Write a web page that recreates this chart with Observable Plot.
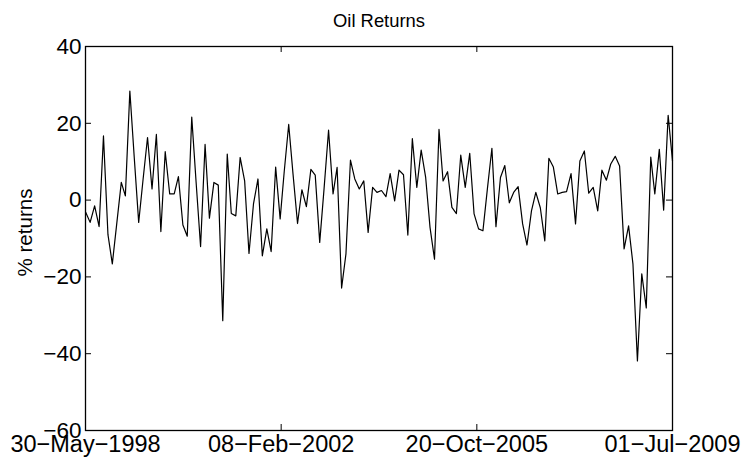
<!DOCTYPE html>
<html>
<head>
<meta charset="utf-8">
<script src="https://cdn.jsdelivr.net/npm/d3@7"></script>
<script src="https://cdn.jsdelivr.net/npm/@observablehq/plot@0.6"></script>
<style>
  html, body { margin: 0; padding: 0; background: #fff; }
</style>
</head>
<body>
<div id="chart"></div>
<script>
// Monthly oil returns (%)
const returns = [
  -3.2, -5.8, -1.5, -6.9, 16.7, -9.0, -16.6, -6.0, 4.6, 1.1,
  28.4, 11.3, -5.8, 5.3, 16.3, 2.9, 17.1, -8.2, 12.6, 1.6,
  1.6, 6.1, -6.5, -9.4, 21.6, 4.7, -12.1, 14.5, -4.7, 4.6,
  3.9, -31.4, 12.0, -3.5, -4.1, 11.1, 5.0, -13.9, -1.0, 5.5,
  -14.5, -7.5, -13.4, 8.6, -4.9, 7.4, 19.7, 6.7, -6.1, 2.7,
  -1.7, 8.0, 6.5, -11.0, 3.0, 18.2, 1.6, 8.5, -22.9, -14.0,
  10.4, 5.5, 2.9, 5.0, -8.4, 3.3, 2.0, 2.5, 0.9, 6.9,
  -0.2, 7.8, 6.6, -9.1, 16.0, 3.3, 13.0, 5.9, -7.1, -15.4,
  18.4, 5.0, 7.4, -1.9, -3.5, 11.7, 3.3, 12.2, -3.6, -7.5,
  -8.0, 3.0, 13.5, -6.9, 5.9, 9.0, -0.7, 2.0, 3.5, -6.2,
  -11.7, -2.8, 2.0, -2.0, -10.6, 10.9, 8.6, 1.6, 2.0, 2.2,
  6.9, -6.2, 10.2, 12.8, 1.8, 3.3, -2.8, 7.8, 5.2, 9.4,
  11.4, 8.9, -12.7, -6.7, -16.6, -41.9, -19.2, -28.1, 11.2, 1.6,
  13.2, -2.6, 22.1, 10.2
];
const firstMonth = "1998-06-01";
const lastMonth = "2009-07-01";
const xDomain = ["1998-05-30", "2009-07-01"];
const xTickDates = ["1998-05-30", "2002-02-08", "2005-10-20", "2009-07-01"];
const xTickLabels = ["30\u2212May\u22121998", "08\u2212Feb\u22122002", "20\u2212Oct\u22122005", "01\u2212Jul\u22122009"];
const yTicks = [-60, -40, -20, 0, 20, 40];
const titleText = "Oil Returns";
const yLabel = "% returns";

const months = d3.utcMonths(new Date(firstMonth), d3.utcDay.offset(new Date(lastMonth), 1));
const data = returns.map((v, i) => ({date: months[i], value: v}));
const tickDates = xTickDates.map(s => new Date(s));
const labelOf = new Map(tickDates.map((d, i) => [+d, xTickLabels[i]]));

const W = 743, H = 466;
const mL = 85, mR = 71, mT = 46, mB = 36;
const innerW = W - mL - mR, innerH = H - mT - mB;
const tick = 6;
const font = "'Liberation Sans', Arial, Helvetica, sans-serif";

const chart = Plot.plot({
  width: W,
  height: H,
  marginLeft: mL,
  marginRight: mR,
  marginTop: mT,
  marginBottom: mB,
  style: {fontFamily: font, background: "#fff", color: "#000", overflow: "visible"},
  x: {type: "utc", domain: xDomain.map(s => new Date(s))},
  y: {domain: [-60, 40]},
  marks: [
    // inward tick marks (left/right, bottom/top)
    Plot.tickY(yTicks, {y: d => d, stroke: "#000", strokeWidth: 1, insetRight: innerW - tick}),
    Plot.tickY(yTicks, {y: d => d, stroke: "#000", strokeWidth: 1, insetLeft: innerW - tick}),
    Plot.tickX(tickDates, {x: d => d, stroke: "#000", strokeWidth: 1, insetTop: innerH - tick}),
    Plot.tickX(tickDates, {x: d => d, stroke: "#000", strokeWidth: 1, insetBottom: innerH - tick}),
    Plot.frame({stroke: "#000", strokeWidth: 1.3}),
    Plot.line(data, {x: "date", y: "value", stroke: "#000", strokeWidth: 1.2}),
    Plot.axisY({ticks: yTicks, tickSize: 0, tickPadding: 4, fontSize: 22.5, label: null,
      tickFormat: d => String(d).replace("-", "\u2212")}),
    Plot.axisX({ticks: tickDates, tickSize: 0, tickPadding: 5, fontSize: 23.5, label: null,
      tickFormat: d => labelOf.get(+d)}),
    Plot.text([titleText], {frameAnchor: "top", lineAnchor: "middle", dy: -25, fontSize: 18.4, fill: "#000"}),
    Plot.text([yLabel], {frameAnchor: "left", textAnchor: "middle", dx: -60, dy: -6, rotate: -90, fontSize: 20.6, fill: "#000"})
  ]
});
document.getElementById("chart").appendChild(chart);
</script>
</body>
</html>
